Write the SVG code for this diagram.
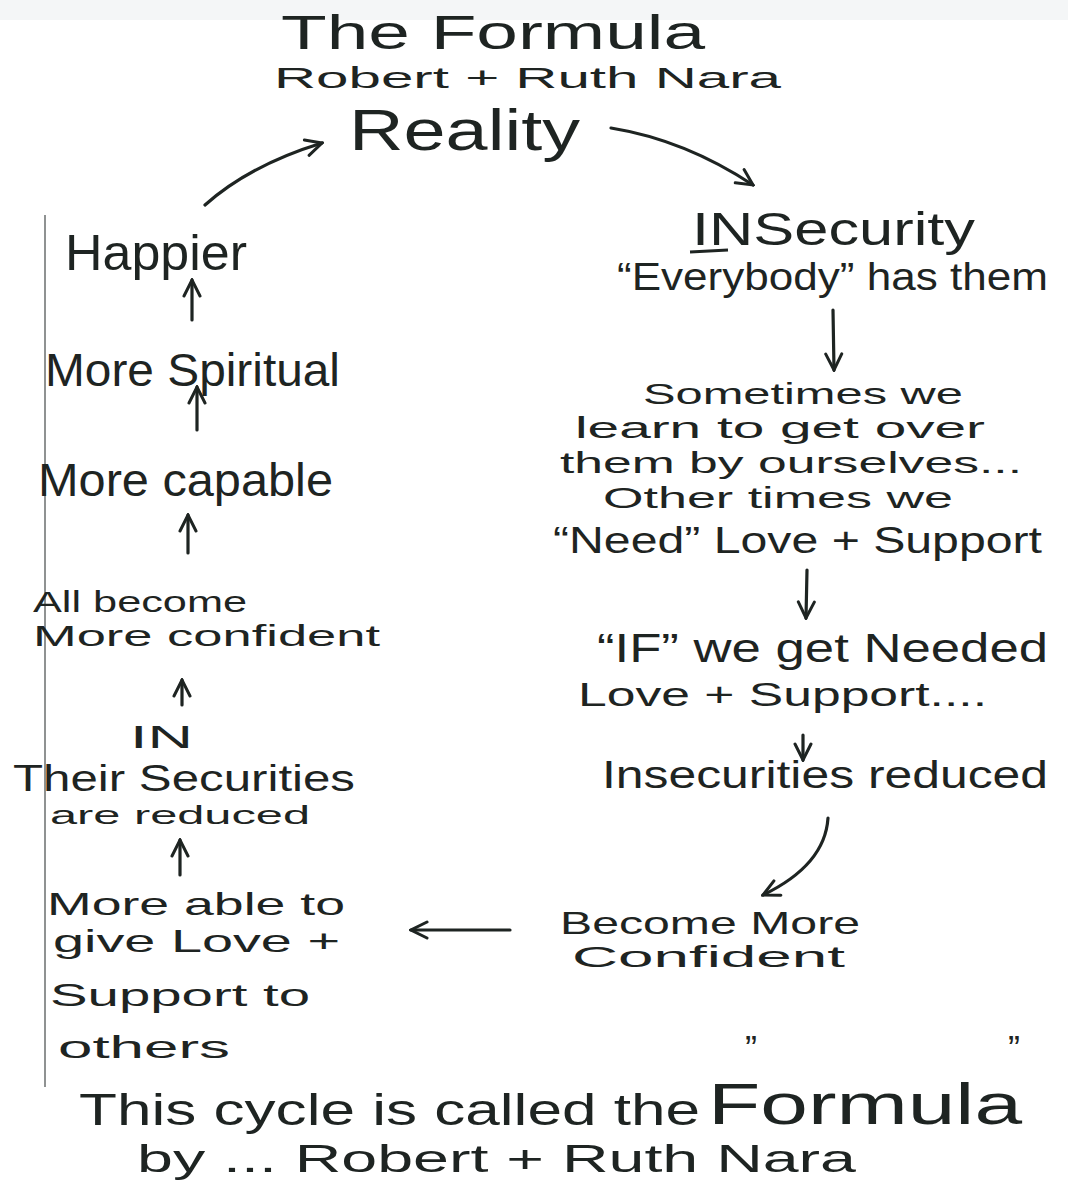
<svg xmlns="http://www.w3.org/2000/svg" width="1068" height="1193" viewBox="0 0 1068 1193">
<defs>
<style>
.t{font-family:"Liberation Sans","DejaVu Sans",sans-serif;fill:#1e2422;}
.c{fill:none;stroke:#1e2422;stroke-width:3.2;stroke-linecap:round;}
</style>
<marker id="ah" viewBox="0 0 20 20" refX="18" refY="10" markerWidth="20" markerHeight="20" markerUnits="userSpaceOnUse" orient="auto">
<path d="M2,2 L18,10 L2,18" fill="none" stroke="#1e2422" stroke-width="3" stroke-linecap="round"/>
</marker>
</defs>
<rect width="1068" height="1193" fill="#ffffff"/>
<rect width="1068" height="20" fill="#f4f6f7"/>
<line x1="45" y1="215" x2="45" y2="1087" stroke="#6a6e6e" stroke-width="1.5"/>

<g id="title">
<text class="t" x="281" y="49" font-size="48" textLength="424" lengthAdjust="spacingAndGlyphs">The Formula</text>
<text class="t" x="274" y="88" font-size="30" textLength="507" lengthAdjust="spacingAndGlyphs">Robert + Ruth Nara</text>
</g>
<g id="reality">
<text class="t" x="349" y="150" font-size="58" textLength="231" lengthAdjust="spacingAndGlyphs">Reality</text>
</g>
<g id="insecurity">
<text class="t" x="692" y="245" font-size="46" textLength="283" lengthAdjust="spacingAndGlyphs">INSecurity</text>
<line x1="690" y1="252" x2="728" y2="250" stroke="#1e2422" stroke-width="3"/>
<text class="t" x="617" y="290" font-size="38" textLength="431" lengthAdjust="spacingAndGlyphs">“Everybody” has them</text>
</g>
<g id="sometimes">
<text class="t" x="643" y="404" font-size="30" textLength="320" lengthAdjust="spacingAndGlyphs">Sometimes we</text>
<text class="t" x="575" y="438" font-size="30" textLength="410" lengthAdjust="spacingAndGlyphs">learn to get over</text>
<text class="t" x="560" y="473" font-size="30" textLength="462" lengthAdjust="spacingAndGlyphs">them by ourselves...</text>
<text class="t" x="603" y="508" font-size="30" textLength="350" lengthAdjust="spacingAndGlyphs">Other times we</text>
<text class="t" x="553" y="553" font-size="36" textLength="489" lengthAdjust="spacingAndGlyphs">“Need” Love + Support</text>
</g>
<g id="if">
<text class="t" x="597" y="662" font-size="40" textLength="451" lengthAdjust="spacingAndGlyphs">“IF” we get Needed</text>
<text class="t" x="578" y="706" font-size="34" textLength="409" lengthAdjust="spacingAndGlyphs">Love + Support....</text>
</g>
<g id="reduced">
<text class="t" x="602" y="788" font-size="38" textLength="446" lengthAdjust="spacingAndGlyphs">Insecurities reduced</text>
</g>
<g id="become">
<text class="t" x="560" y="934" font-size="32" textLength="300" lengthAdjust="spacingAndGlyphs">Become More</text>
<text class="t" x="572" y="967" font-size="30" textLength="273" lengthAdjust="spacingAndGlyphs">Confident</text>
</g>
<g id="able">
<text class="t" x="47" y="915" font-size="32" textLength="298" lengthAdjust="spacingAndGlyphs">More able to</text>
<text class="t" x="53" y="952" font-size="32" textLength="287" lengthAdjust="spacingAndGlyphs">give Love +</text>
<text class="t" x="50" y="1006" font-size="32" textLength="260" lengthAdjust="spacingAndGlyphs">Support to</text>
<text class="t" x="58" y="1058" font-size="32" textLength="172" lengthAdjust="spacingAndGlyphs">others</text>
</g>
<g id="their">
<text class="t" x="130" y="748" font-size="32" textLength="63" lengthAdjust="spacingAndGlyphs">IN</text>
<text class="t" x="13" y="791" font-size="36" textLength="342" lengthAdjust="spacingAndGlyphs">Their  Securities</text>
<text class="t" x="50" y="824" font-size="26" textLength="260" lengthAdjust="spacingAndGlyphs">are reduced</text>
</g>
<g id="confident">
<text class="t" x="33" y="612" font-size="30" textLength="214" lengthAdjust="spacingAndGlyphs">All become</text>
<text class="t" x="33" y="646" font-size="30" textLength="347" lengthAdjust="spacingAndGlyphs">More confident</text>
</g>
<g id="capable">
<text class="t" x="38" y="496" font-size="46" textLength="295" lengthAdjust="spacingAndGlyphs">More capable</text>
</g>
<g id="spiritual">
<text class="t" x="45" y="386" font-size="46" textLength="295" lengthAdjust="spacingAndGlyphs">More Spiritual</text>
</g>
<g id="happier">
<text class="t" x="65" y="270" font-size="50" textLength="182" lengthAdjust="spacingAndGlyphs">Happier</text>
</g>
<g id="footer">
<text class="t" x="79" y="1125" font-size="44" textLength="621" lengthAdjust="spacingAndGlyphs">This cycle is called the</text>
<text class="t" x="708" y="1124" font-size="58" textLength="314" lengthAdjust="spacingAndGlyphs">Formula</text>
<text class="t" x="745" y="1062" font-size="36">”</text>
<text class="t" x="1008" y="1062" font-size="36">”</text>
<text class="t" x="137" y="1172" font-size="38" textLength="719" lengthAdjust="spacingAndGlyphs">by ... Robert + Ruth Nara</text>
</g>

<g id="connectors">
<path class="c" d="M611,128 Q685,140 753,185" marker-end="url(#ah)"/>
<path class="c" d="M205,205 Q250,165 322,143" marker-end="url(#ah)"/>
<path class="c" d="M833,310 L834,370" marker-end="url(#ah)"/>
<path class="c" d="M807,570 L806,618" marker-end="url(#ah)"/>
<path class="c" d="M803,735 L803,760" marker-end="url(#ah)"/>
<path class="c" d="M828,818 Q825,865 763,895" marker-end="url(#ah)"/>
<path class="c" d="M510,930 L411,930" marker-end="url(#ah)"/>
<path class="c" d="M180,875 L180,840" marker-end="url(#ah)"/>
<path class="c" d="M182,705 L182,680" marker-end="url(#ah)"/>
<path class="c" d="M188,553 L188,515" marker-end="url(#ah)"/>
<path class="c" d="M197,430 L197,387" marker-end="url(#ah)"/>
<path class="c" d="M192,320 L192,280" marker-end="url(#ah)"/>
</g>
</svg>
